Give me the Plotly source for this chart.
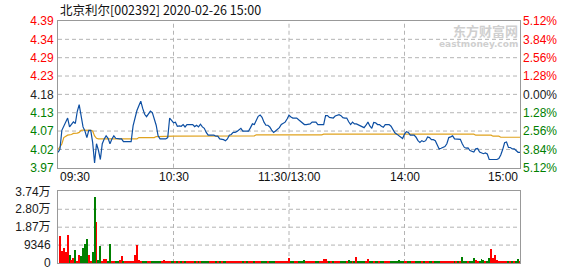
import plotly.graph_objects as go

title_text = "北京利尔[002392] 2020-02-26 15:00"
pre_close = 4.18
pct_levels = [5.12, 3.84, 2.56, 1.28, 0.00, -1.28, -2.56, -3.84, -5.12]
price_tick_text = ["4.39", "4.34", "4.29", "4.23", "4.18", "4.13", "4.07", "4.02", "3.97"]
pct_tick_text = ["5.12%", "3.84%", "2.56%", "1.28%", "0.00%", "1.28%", "2.56%", "3.84%", "5.12%"]
time_tick_pos = [0, 60, 120, 180, 240]
time_tick_text = ["09:30", "10:30", "11:30/13:00", "14:00", "15:00"]
vol_tick_vals = [0, 9346, 18692, 28038, 37384]
vol_tick_text = ["0", "9346", "1.87万", "2.80万", "3.74万"]

price = [
    4.011, 4.020, 4.075, 4.088, 4.102, 4.111, 4.085, 4.092, 4.100, 4.095,
    4.130, 4.150, 4.121, 4.085, 4.073, 4.054, 4.075, 4.075, 4.040, 3.980,
    4.036, 4.017, 3.990, 4.036, 4.050, 4.059, 4.052, 4.036, 4.050, 4.059,
    4.052, 4.050, 4.050, 4.050, 4.042, 4.042, 4.042, 4.042, 4.042, 4.088,
    4.111, 4.133, 4.147, 4.160, 4.139, 4.122, 4.115, 4.125, 4.131, 4.127,
    4.107, 4.090, 4.059, 4.050, 4.050, 4.050, 4.050, 4.054, 4.111, 4.104,
    4.097, 4.099, 4.087, 4.088, 4.087, 4.092, 4.085, 4.092, 4.092, 4.092,
    4.092, 4.086, 4.090, 4.085, 4.093, 4.085, 4.081, 4.069, 4.061, 4.061,
    4.061, 4.061, 4.058, 4.058, 4.050, 4.050, 4.048, 4.045, 4.050, 4.061,
    4.063, 4.069, 4.069, 4.072, 4.078, 4.081, 4.073, 4.073, 4.071, 4.073,
    4.083, 4.094, 4.092, 4.102, 4.116, 4.120, 4.113, 4.099, 4.090, 4.090,
    4.085, 4.076, 4.069, 4.073, 4.078, 4.083, 4.092, 4.095, 4.099, 4.108,
    4.119, 4.114, 4.111, 4.111, 4.111, 4.106, 4.102, 4.098, 4.092, 4.092,
    4.092, 4.094, 4.099, 4.100, 4.099, 4.092, 4.092, 4.092, 4.092, 4.118,
    4.118, 4.113, 4.113, 4.111, 4.117, 4.118, 4.121, 4.118, 4.112, 4.111,
    4.111, 4.100, 4.092, 4.099, 4.094, 4.094, 4.091, 4.087, 4.085, 4.083,
    4.090, 4.099, 4.088, 4.081, 4.098, 4.097, 4.092, 4.092, 4.087, 4.084,
    4.092, 4.092, 4.092, 4.087, 4.075, 4.068, 4.064, 4.059, 4.054, 4.051,
    4.064, 4.071, 4.069, 4.061, 4.061, 4.061, 4.055, 4.045, 4.040, 4.045,
    4.042, 4.045, 4.056, 4.054, 4.048, 4.048, 4.045, 4.033, 4.021, 4.023,
    4.026, 4.028, 4.036, 4.054, 4.056, 4.059, 4.050, 4.050, 4.049, 4.049,
    4.036, 4.026, 4.023, 4.024, 4.016, 4.014, 4.012, 4.021, 4.022, 4.012,
    4.009, 4.007, 4.009, 4.006, 3.990, 3.990, 3.990, 3.990, 3.990, 3.993,
    4.003, 4.019, 4.039, 4.041, 4.025, 4.025, 4.021, 4.021, 4.017, 4.011,
    4.011,
]

avg_minutes = [0, 2, 3, 5, 7, 8, 10, 11, 12, 13, 17, 18, 19, 20, 21, 41, 42, 50, 51,
               60, 102, 103, 137, 138, 216, 217, 225, 226, 229, 230, 240]
avg_price = [4.019, 4.035, 4.054, 4.061, 4.063, 4.066, 4.067, 4.069, 4.075, 4.076,
             4.075, 4.073, 4.059, 4.052, 4.050, 4.050, 4.054, 4.054, 4.057,
             4.058, 4.059, 4.062, 4.062, 4.064, 4.064, 4.061, 4.061, 4.058, 4.058,
             4.055, 4.055]

volume = [
    0, 14100, 6050, 7560, 5540, 14600, 4030, 1180, 2520, 6550,
    670, 4200, 3530, 7560, 9580, 12100, 4030, 1000, 5540, 34270,
    21170, 1510, 8570, 670, 2020, 1680, 670, 9580, 500, 500,
    520, 480, 1500, 3530, 500, 450, 520, 480, 1000, 1000,
    4030, 9070, 1500, 500,
    480, 520, 450, 500, 530, 470, 510, 490, 460, 520, 500,
    1600,
    500, 560, 620, 480, 520, 450, 500, 540, 470, 510,
    490, 530, 460, 500, 520, 480, 510, 470, 540, 500,
    480, 520, 460, 500, 530, 470, 510, 490, 520, 480,
    500, 460, 540, 500, 480, 520, 470, 510, 490, 530,
    460, 500, 520, 480, 510, 470, 540, 500, 480, 520,
    460, 500, 530, 470, 510, 490, 520, 480, 500, 460,
    540, 500, 480,
    800, 2200,
    500, 480, 520, 460, 510, 490, 530,
    1200,
    480, 500, 520, 470, 510, 490, 460, 530, 500,
    1700, 1700,
    480, 520, 500, 460, 540, 490, 510, 470, 530, 500, 480,
    1200,
    500, 520, 480,
    2700,
    500, 470, 530, 490, 510,
    1700,
    480, 520,
    1000,
    500, 470, 530, 490, 510, 480, 520, 460, 500, 540, 480, 510,
    1200,
    490, 520, 470, 500, 530, 480, 510, 460, 500, 520,
    480, 540, 490, 510, 470, 500, 530, 480, 520, 500,
    480, 1000,
    500, 520, 470, 510, 490, 530, 480, 500, 520, 470,
    2900,
    600, 500, 700, 520, 480,
    2400, 1450, 600, 500, 1900, 1450, 700, 500, 2400, 7100,
    2400, 3840, 1450, 1100, 960, 800, 500, 500, 520, 960,
    500, 480, 520, 2100, 500,
]

minutes = list(range(len(price)))
vol_minutes = list(range(len(volume)))

RED = "#ff0000"
GREEN = "#008000"
DARK = "#222222"
BLUE = "#0d4fa3"
ORANGE = "#e0a21e"
GRID = "#b4b4b4"
FRAME = "#999999"

bar_colors = []
for i in range(len(volume)):
    if i == 0 or i >= len(price) or price[i] >= price[i - 1]:
        bar_colors.append(RED)
    else:
        bar_colors.append(GREEN)

tick_vals = [pre_close * (1 + p / 100.0) for p in pct_levels]
y_range = [pre_close * (1 - 0.0512), pre_close * (1 + 0.0512)]


def tick_color(p):
    if p > 0:
        return RED
    if p < 0:
        return GREEN
    return DARK


left_text = ['<span style="color:%s">%s</span>' % (tick_color(p), t)
             for p, t in zip(pct_levels, price_tick_text)]
right_text = ['<span style="color:%s">%s</span>' % (tick_color(p), t)
              for p, t in zip(pct_levels, pct_tick_text)]

fig = go.Figure()

fig.add_trace(go.Scatter(x=avg_minutes, y=avg_price, mode="lines",
                         line=dict(color=ORANGE, width=1.2),
                         xaxis="x", yaxis="y", hoverinfo="skip"))
fig.add_trace(go.Scatter(x=minutes, y=price, mode="lines",
                         line=dict(color=BLUE, width=1.2),
                         xaxis="x", yaxis="y", hoverinfo="skip"))
fig.add_trace(go.Bar(x=vol_minutes, y=volume, marker=dict(color=bar_colors, line=dict(width=0)),
                     width=0.5, xaxis="x2", yaxis="y2", hoverinfo="skip"))
fig.add_trace(go.Scatter(x=[0], y=[pre_close], mode="markers", marker=dict(opacity=0),
                         xaxis="x", yaxis="y3", hoverinfo="skip"))

font_num = "Liberation Sans, Arial, Noto Sans CJK SC, sans-serif"

axis_common = dict(showline=True, linecolor=FRAME, mirror=True, showgrid=False,
                   zeroline=False, ticks="")

fig.update_layout(
    width=578, height=276,
    margin=dict(l=58, r=58, t=21, b=6, pad=0),
    paper_bgcolor="white", plot_bgcolor="white",
    showlegend=False,
    bargap=0,
    xaxis=dict(domain=[0, 1], range=[0, 240], anchor="y",
               tickvals=time_tick_pos, showticklabels=False, **axis_common),
    yaxis=dict(domain=[0.3936, 1.0], range=y_range, anchor="x",
               tickvals=tick_vals, ticktext=left_text,
               tickfont=dict(family=font_num, size=12),
               ticklabelstandoff=1, **axis_common),
    yaxis3=dict(overlaying="y", side="right", range=y_range, anchor="x",
                tickvals=tick_vals, ticktext=right_text,
                tickfont=dict(family=font_num, size=12),
                showgrid=False, showline=False, zeroline=False, ticks="",
                ticklabelstandoff=2),
    xaxis2=dict(domain=[0, 1], range=[0, 240], anchor="y2",
                tickvals=time_tick_pos, showticklabels=False, **axis_common),
    yaxis2=dict(domain=[0, 0.296], range=[0, vol_tick_vals[-1]], anchor="x2",
                tickvals=vol_tick_vals, ticktext=vol_tick_text,
                tickfont=dict(family=font_num, size=12, color="#1a1a1a"),
                ticklabelstandoff=4, **axis_common),
)

grid_line = dict(color=GRID, width=1, dash="4px,3px")
shapes = []
for v in tick_vals[1:-1]:
    shapes.append(dict(type="line", xref="x domain", yref="y", x0=0, x1=1, y0=v, y1=v,
                       line=grid_line, layer="below"))
for v in vol_tick_vals[1:-1]:
    shapes.append(dict(type="line", xref="x2 domain", yref="y2", x0=0, x1=1, y0=v, y1=v,
                       line=grid_line, layer="below"))
for t in time_tick_pos[1:-1]:
    shapes.append(dict(type="line", xref="x", yref="y domain", x0=t, x1=t, y0=0, y1=1,
                       line=grid_line, layer="below"))
    shapes.append(dict(type="line", xref="x2", yref="y2 domain", x0=t, x1=t, y0=0, y1=1,
                       line=grid_line, layer="below"))
fig.update_layout(shapes=shapes)

annotations = []
annotations.append(dict(text=title_text, xref="paper", yref="paper", x=0, y=1.048,
                        xanchor="left", yanchor="middle", showarrow=False,
                        font=dict(family="Noto Sans CJK SC, sans-serif", size=12.5, color="#111111")))
for pos, txt in zip(time_tick_pos, time_tick_text):
    if pos == time_tick_pos[0]:
        anchor = "left"
    elif pos == time_tick_pos[-1]:
        anchor = "right"
    else:
        anchor = "center"
    annotations.append(dict(text=txt, xref="x", yref="paper", x=pos, y=0.3534,
                            xanchor=anchor, yanchor="middle", showarrow=False,
                            font=dict(family=font_num, size=12, color="#111111")))
annotations.append(dict(text="<b>东方财富网</b>", xref="paper", yref="paper", x=1.0, y=0.962,
                        xanchor="right", yanchor="middle", showarrow=False,
                        font=dict(family="Noto Sans CJK SC, sans-serif", size=13, color="#cfcfcf")))
annotations.append(dict(text="<b>eastmoney.com</b>", xref="paper", yref="paper", x=1.0, y=0.905,
                        xanchor="right", yanchor="middle", showarrow=False,
                        font=dict(family="DejaVu Sans, sans-serif", size=9, color="#cfcfcf")))
fig.update_layout(annotations=annotations)

fig.write_html("out.html")
